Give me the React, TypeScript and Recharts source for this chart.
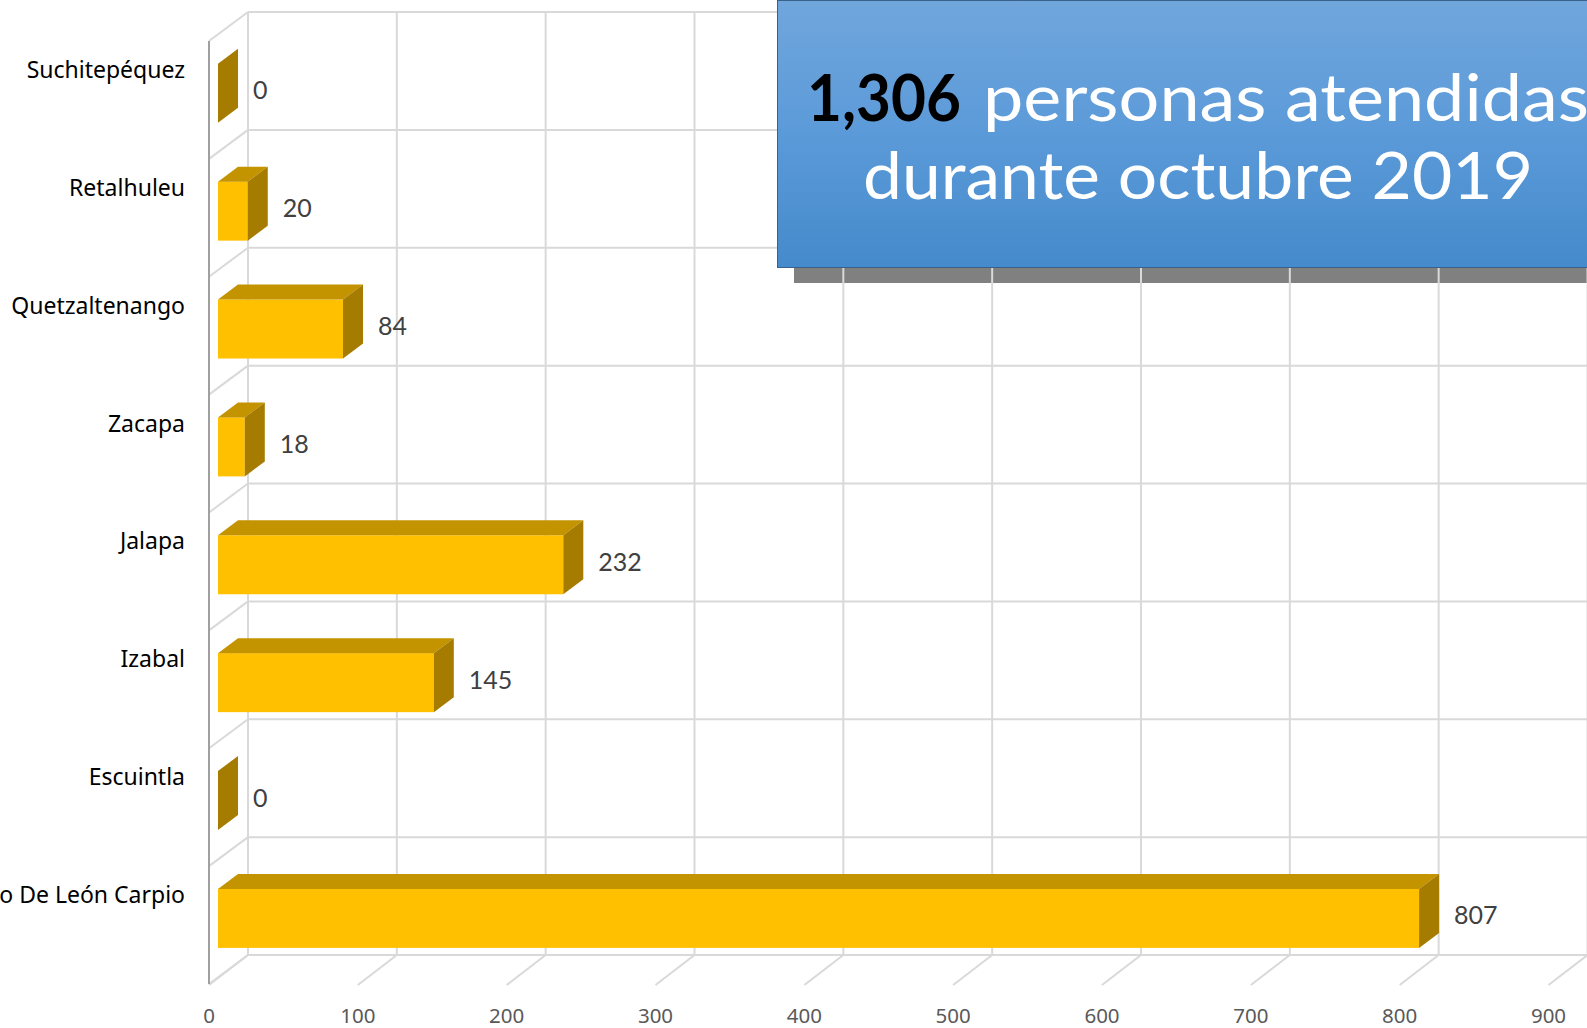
import React from 'react';
import { BarChart, Bar, XAxis, YAxis, CartesianGrid, LabelList } from 'recharts';

const departamentos = [
    'Suchitepéquez',
    'Retalhuleu',
    'Quetzaltenango',
    'Zacapa',
    'Jalapa',
    'Izabal',
    'Escuintla',
    'Ramiro De León Carpio',
];
const atendidas = [0, 20, 84, 18, 232, 145, 0, 807];
const xTicks = [0, 100, 200, 300, 400, 500, 600, 700, 800, 900];

const data = departamentos.map((nombre, i) => ({ nombre, atendidas: atendidas[i] }));

// 3D look: back wall offset and bar depth
const WALL_DX = 39;
const WALL_DY = -29;
const BAR_DX0 = 9;
const BAR_DY0 = -6.7;
const BAR_DX = 20;
const BAR_DY = -15;

const GRID = '#D9D9D9';

function lineaVertical(props: any) {
    const { x1, y1, y2, index } = props;
    return (
        <g key={`v-${index}`}>
            <line x1={x1 + WALL_DX} y1={y1 + WALL_DY} x2={x1 + WALL_DX} y2={y2 + WALL_DY} stroke={GRID} strokeWidth={2} />
            <line x1={x1} y1={y2 + 1} x2={x1 + WALL_DX} y2={y2 + WALL_DY} stroke={GRID} strokeWidth={2} />
        </g>
    );
}

function lineaHorizontal(props: any) {
    const { x1, x2, y1, index } = props;
    return (
        <g key={`h-${index}`}>
            <line x1={x1 + WALL_DX} y1={y1 + WALL_DY} x2={x2 + WALL_DX} y2={y1 + WALL_DY} stroke={GRID} strokeWidth={2} />
            <line x1={x1} y1={y1} x2={x1 + WALL_DX} y2={y1 + WALL_DY} stroke={GRID} strokeWidth={2} />
        </g>
    );
}

function Caja3D(props: any) {
    const { x, y, height } = props;
    const w = Math.max(props.width || 0, 0);
    const fx = x + BAR_DX0;
    const fy = y + BAR_DY0;
    return (
        <g>
            {w > 0 && <rect x={fx} y={fy} width={w} height={height} fill="#FFC000" />}
            {w > 0 && (
                <polygon
                    points={`${fx},${fy} ${fx + BAR_DX},${fy + BAR_DY} ${fx + w + BAR_DX},${fy + BAR_DY} ${fx + w},${fy}`}
                    fill="#C39300"
                />
            )}
            <polygon
                points={`${fx + w},${fy} ${fx + w + BAR_DX},${fy + BAR_DY} ${fx + w + BAR_DX},${fy + BAR_DY + height} ${fx + w},${fy + height}`}
                fill="#A57C00"
            />
        </g>
    );
}

function Etiqueta(props: any) {
    const { x, y, width, height, value } = props;
    return (
        <text
            x={x + Math.max(width, 0) + BAR_DX0 + BAR_DX + 15}
            y={y + BAR_DY0 + height / 2 - 4}
            dominantBaseline="central"
            fill="#404040"
            fontSize={25}
            fontFamily="Lato"
        >
            {value}
        </text>
    );
}

function TickDepto(props: any) {
    const { x, y, payload } = props;
    return (
        <text x={x} y={y - 31} textAnchor="end" dominantBaseline="central" fill="#000" fontSize={23} fontFamily="Noto Sans">
            {payload.value}
        </text>
    );
}

function TickValor(props: any) {
    const { x, y, payload } = props;
    return (
        <text x={x} y={y + 23} textAnchor="middle" dominantBaseline="central" fill="#595959" fontSize={20.5} fontFamily="Noto Sans">
            {payload.value}
        </text>
    );
}

export default function App() {
    return (
        <div style={{ position: 'relative', width: 1587, height: 1028, overflow: 'hidden', background: '#fff' }}>
            <style>{'body{margin:0}'}</style>
            <div style={{ position: 'absolute', left: 794, top: 16, width: 900, height: 267, background: '#808080' }} />
            <div style={{ position: 'absolute', left: 0, top: 0 }}>
                <BarChart
                    width={1587}
                    height={1028}
                    data={data}
                    layout="vertical"
                    margin={{ top: 41, right: 38.5, bottom: 0, left: 0 }}
                    barCategoryGap="25%"
                >
                    <CartesianGrid
                        horizontal={lineaHorizontal}
                        vertical={lineaVertical}
                        horizontalCoordinatesGenerator={({ offset }: any) =>
                            [...departamentos, ''].map((_, i) => offset.top + (i * offset.height) / departamentos.length)
                        }
                    />
                    <XAxis
                        type="number"
                        domain={[0, 900]}
                        ticks={xTicks}
                        height={44}
                        axisLine={false}
                        tickLine={false}
                        tick={<TickValor />}
                        interval={0}
                    />
                    <YAxis
                        type="category"
                        dataKey="nombre"
                        width={209}
                        axisLine={{ stroke: '#A0A0A0', strokeWidth: 2 }}
                        tickLine={false}
                        tickMargin={18}
                        tick={<TickDepto />}
                        interval={0}
                    />
                    <Bar dataKey="atendidas" shape={<Caja3D />} isAnimationActive={false}>
                        <LabelList dataKey="atendidas" content={<Etiqueta />} />
                    </Bar>
                </BarChart>
            </div>
            <div
                style={{
                    position: 'absolute',
                    left: 777,
                    top: 0,
                    width: 842,
                    height: 268,
                    boxSizing: 'border-box',
                    border: '1.5px solid #38618C',
                    background: 'linear-gradient(180deg, #70A6DC 0%, #5B9AD9 50%, #458ACB 100%)',
                }}
            />
            <svg width={1587} height={1028} style={{ position: 'absolute', left: 0, top: 0, pointerEvents: 'none' }}>
                <text x={807} y={121} fontFamily="Lato" fontWeight={700} fontSize={65} fill="#000" textLength={154} lengthAdjust="spacingAndGlyphs">
                    1,306
                </text>
                <text x={983} y={121} fontFamily="Lato" fontSize={65} fill="#fff" textLength={606} lengthAdjust="spacingAndGlyphs">
                    personas atendidas
                </text>
                <text x={1198} y={199} textAnchor="middle" fontFamily="Lato" fontSize={65} fill="#fff" textLength={670} lengthAdjust="spacingAndGlyphs">
                    durante octubre 2019
                </text>
            </svg>
        </div>
    );
}
